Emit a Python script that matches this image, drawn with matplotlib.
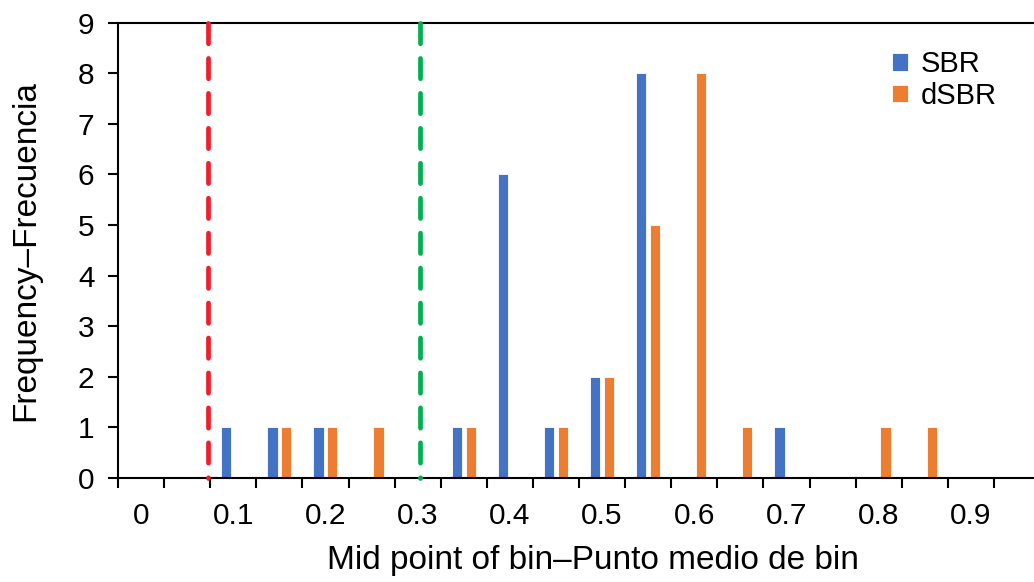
import matplotlib.pyplot as plt
import numpy as np

plt.rcParams['font.family'] = ['Liberation Sans', 'DejaVu Sans']

# bin mid points (categories) and frequencies
bins = [0, 0.05, 0.1, 0.15, 0.2, 0.25, 0.3, 0.35, 0.4, 0.45,
        0.5, 0.55, 0.6, 0.65, 0.7, 0.75, 0.8, 0.85, 0.9, 0.95]
sbr = [0, 0, 1, 1, 1, 0, 0, 1, 6, 1, 2, 8, 0, 0, 1, 0, 0, 0, 0, 0]
dsbr = [0, 0, 0, 1, 1, 1, 0, 1, 0, 1, 2, 5, 8, 1, 0, 0, 1, 1, 0, 0]
tick_labels = ['0', '', '0.1', '', '0.2', '', '0.3', '', '0.4', '', '0.5',
               '', '0.6', '', '0.7', '', '0.8', '', '0.9', '']

# threshold lines (in bin units)
red_line = 0.0725
green_line = 0.3025

fig = plt.figure(figsize=(10.34, 5.82), dpi=100)
ax = fig.add_axes([118 / 1034, 104 / 582, 922 / 1034, 455.3 / 582])

x = np.arange(len(bins))
w = 0.22
ax.bar(x - 0.15, sbr, w, color='#4472C4', edgecolor='white', linewidth=0.6, label='SBR', zorder=2)
ax.bar(x + 0.15, dsbr, w, color='#ED7D31', edgecolor='white', linewidth=0.6, label='dSBR', zorder=2)

step = bins[1] - bins[0]
ax.plot([red_line / step] * 2, [9, 0], color='#F01E2C', linestyle=(0, (4.3, 3.1)), linewidth=3.4,
        dash_capstyle='round', zorder=3, clip_on=False)
ax.plot([green_line / step] * 2, [9, 0], color='#00B050', linestyle=(0, (4.3, 3.1)), linewidth=3.4,
        dash_capstyle='round', zorder=3, clip_on=False)

ax.set_xlim(-0.5, len(bins) - 0.5)
ax.set_ylim(0, 9)
ax.set_yticks(range(10))

# tick marks between categories, labels under categories
ax.set_xticks(np.arange(-0.5, len(bins), 1.0))
ax.set_xticklabels([])
ax.set_xticks(x, minor=True)
ax.set_xticklabels(tick_labels, minor=True)
ax.tick_params(axis='x', which='major', length=7, width=1.5, direction='out')
ax.tick_params(axis='x', which='minor', length=0, pad=17, labelsize=21.5)
ax.tick_params(axis='y', length=7, width=1.5, pad=10, labelsize=21.5)

for s in ['left', 'bottom', 'top']:
    ax.spines[s].set_linewidth(1.5)
ax.spines['right'].set_visible(False)

ax.set_xlabel('Mid point of bin\u2013Punto medio de bin', fontsize=24)
ax.xaxis.set_label_coords(0.515, -0.148)
ax.set_ylabel('Frequency\u2013Frecuencia', fontsize=24, labelpad=26)

ax.legend(loc='upper right', bbox_to_anchor=(0.982, 0.997), frameon=False, fontsize=21,
          handlelength=0.55, handleheight=0.55, handletextpad=0.45, labelspacing=0.12)

plt.savefig('out.png', dpi=100)
